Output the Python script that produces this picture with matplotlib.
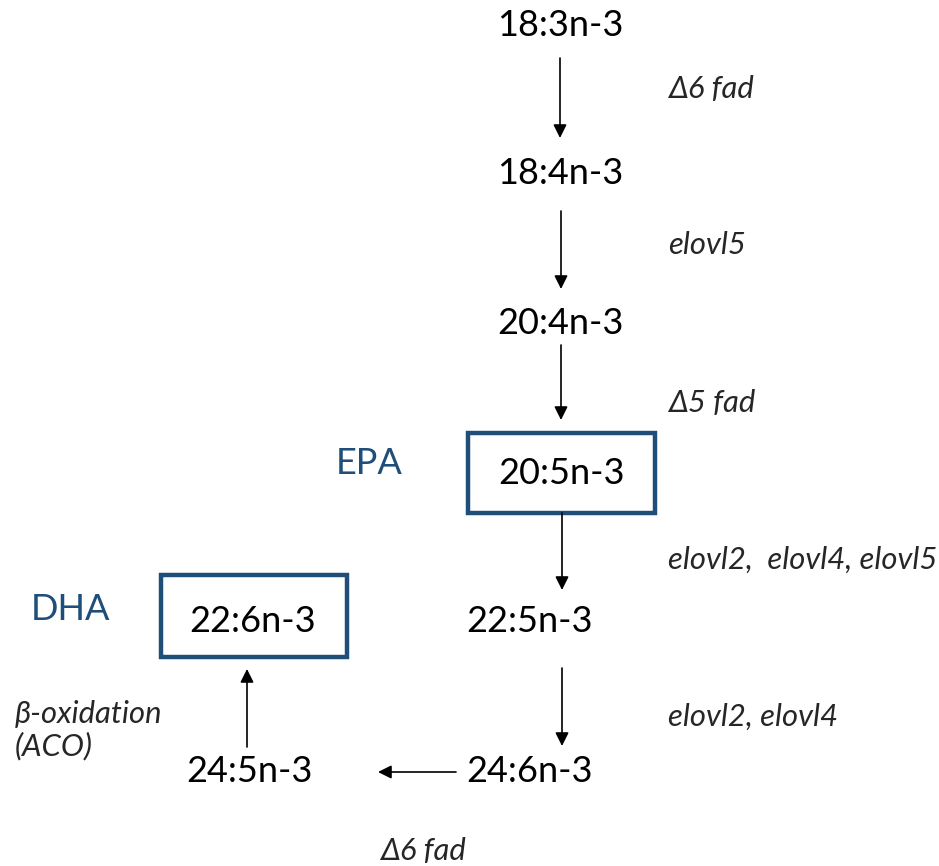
import matplotlib
matplotlib.use("Agg")
import matplotlib.pyplot as plt
from matplotlib.patches import Rectangle

plt.rcParams['font.family'] = ['Lato', 'DejaVu Sans']

# Fatty acid nodes
nodes = ["18:3n-3", "18:4n-3", "20:4n-3", "20:5n-3", "22:5n-3", "24:6n-3", "24:5n-3", "22:6n-3"]
node_x = [560, 560, 560, 561, 529, 529, 249, 253]
node_y = [25, 174, 323, 473, 622, 772, 772, 622]
boxed = ["20:5n-3", "22:6n-3"]

# Box extents (x0, y0, x1, y1)
box_ext = {"20:5n-3": (468, 433, 655, 513), "22:6n-3": (161, 575, 347, 657)}

# Common names
names = ["EPA", "DHA"]
name_x = [369, 70]
name_y = [464, 609]

# Reactions arrow segments (start, end)
arrows = [((560, 58), (560, 138)), ((561, 211), (561, 289)), ((561, 345), (561, 420)),
          ((562, 513), (562, 590)), ((562, 668), (562, 746)), ((456, 772), (378, 772)),
          ((247, 747), (247, 669))]

# Enzyme labels
enzymes = ["\u03946 fad", "elovl5", "\u03945 fad", "elovl2,  elovl4, elovl5", "elovl2, elovl4",
           "\u03b2-oxidation\n(ACO)", "\u03946 fad"]
enz_x = [668, 668, 668, 668, 668, 15, 380]
enz_y = [89, 245, 403, 560, 717, 730, 851]

W, H = 939, 866
fig = plt.figure(figsize=(W / 100, H / 100), dpi=100)
ax = fig.add_axes([0, 0, 1, 1])
ax.set_xlim(0, W)
ax.set_ylim(H, 0)
ax.axis('off')

blue = "#1f4e79"

for lab, x, y in zip(nodes, node_x, node_y):
    ax.text(x, y, lab, fontsize=26, ha='center', va='center', color='black')
    if lab in boxed:
        x0, y0, x1, y1 = box_ext[lab]
        ax.add_patch(Rectangle((x0, y0), x1 - x0, y1 - y0, fill=False, edgecolor=blue, lw=3.2))

for lab, x, y in zip(names, name_x, name_y):
    ax.text(x, y, lab, fontsize=26, ha='center', va='center', color=blue)

for (s, e) in arrows:
    ax.annotate("", xy=e, xytext=s,
                arrowprops=dict(arrowstyle='-|>', color='black', lw=1.2,
                                mutation_scale=20, shrinkA=0, shrinkB=0))

for lab, x, y in zip(enzymes, enz_x, enz_y):
    ax.text(x, y, lab, fontsize=22.3, ha='left', va='center', style='italic',
            color='#262626', linespacing=1.15)

fig.savefig("out.png", dpi=100)
